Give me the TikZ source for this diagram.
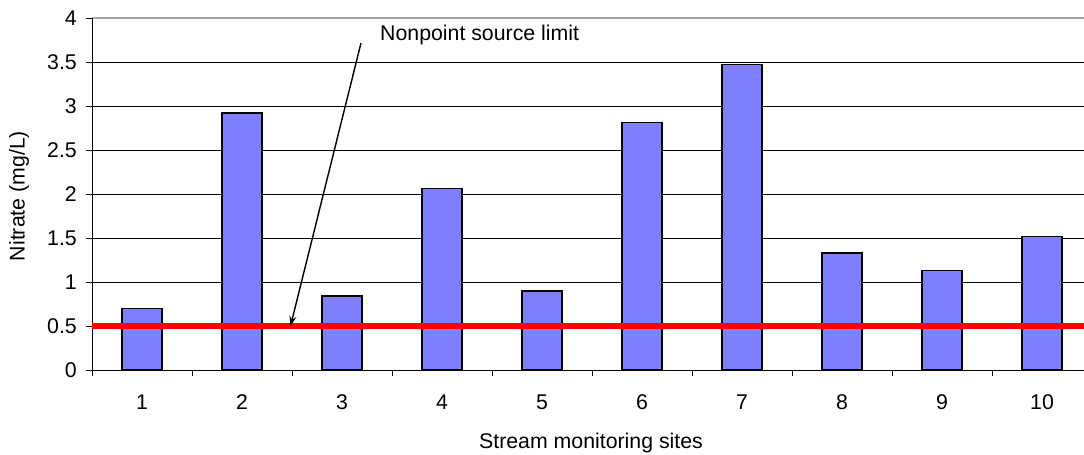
\documentclass[tikz,border=0pt]{standalone}
\usepackage{fontspec}
\setmainfont{Liberation Sans}
\usetikzlibrary{arrows.meta}
\definecolor{barblue}{HTML}{8080FF}
\tikzset{
  grid line/.style={draw=black, line width=1pt},
  axis line/.style={draw=black, line width=1pt},
  bar/.style={draw=black, fill=barblue, line width=1.5pt},
  limit line/.style={draw=red, line width=6pt},
  ticklabel/.style={inner sep=0pt, font=\fontsize{21.3}{25}\selectfont},
  annot/.style={inner sep=0pt, font=\fontsize{21.3}{25}\selectfont},
  pointer/.style={draw=black, line width=1.4pt, -{Stealth[length=10pt,width=7pt]}}
}
\begin{document}
\begin{tikzpicture}[x=1pt,y=-1pt]
\useasboundingbox (0,0) rectangle (1084,455);
% gridlines
\foreach \v in {0.5,1,1.5,2,2.5,3,3.5}
  \draw[grid line] (92,370-88*\v) -- (1084,370-88*\v);
\draw[draw=gray!70, line width=1.2pt] (92,18) -- (1084,18);
% axes
\draw[axis line] (92,18) -- (92,370) -- (1084,370);
% y ticks and labels
\foreach \v/\t in {0/0,0.5/0.5,1/1,1.5/1.5,2/2,2.5/2.5,3/3,3.5/3.5,4/4} {
  \draw[axis line] (86,370-88*\v) -- (92,370-88*\v);
  \node[ticklabel, anchor=east] (yl\t) at (77,370-88*\v) {\t};
}
% x ticks
\foreach \k in {0,...,9}
  \draw[axis line] (92+100*\k,370) -- (92+100*\k,376);
% bars and x labels
\foreach \i/\h in {1/0.70,2/2.92,3/0.84,4/2.06,5/0.90,6/2.81,7/3.47,8/1.33,9/1.13,10/1.515} {
  \draw[bar] (122+100*\i-100,370) rectangle (162+100*\i-100,370-88*\h);
  \node[ticklabel] (xl\i) at (142+100*\i-100,402) {\i};
}
% limit line
\draw[limit line] (92,326) -- (1084,326);
% axis titles
\node[ticklabel] (xtitle) at (591,443) {Stream monitoring sites};
\node[ticklabel, rotate=90] (ytitle) at (19,196) {Nitrate (mg/L)};
% annotation
\node[annot, anchor=west] (lab) at (380,35) {Nonpoint source limit};
\coordinate (tail) at (361,43);
\coordinate (tip) at (290.5,326);
\draw[pointer] (tail) -- (tip);
\end{tikzpicture}
\end{document}
